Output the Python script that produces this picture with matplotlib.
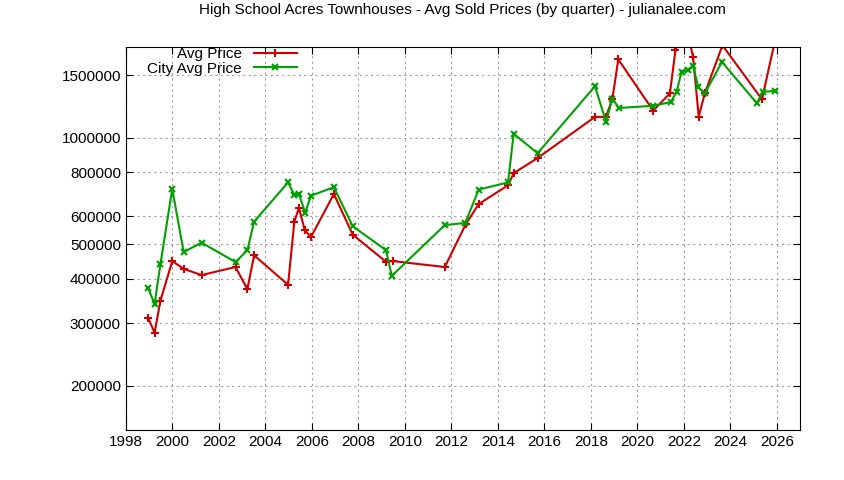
import matplotlib
matplotlib.use("Agg")
import matplotlib.pyplot as plt
from matplotlib.ticker import FixedLocator, NullLocator

# Avg Price (red)
avg_years = [1998.97, 1999.24, 1999.49, 2000.0, 2000.49, 2001.26, 2002.72, 2003.23, 2003.52,
             2004.98, 2005.25, 2005.45, 2005.69, 2005.96, 2006.95, 2007.76, 2009.19, 2009.48,
             2011.72, 2012.62, 2013.18, 2014.44, 2014.68, 2015.71, 2018.18, 2018.65, 2018.93,
             2019.18, 2020.68, 2021.40, 2021.64, 2021.9, 2022.15, 2022.40, 2022.64, 2022.90,
             2023.66, 2025.36, 2025.90]
avg_price = [310000, 282000, 347000, 449000, 427000, 410000, 432000, 374000, 466000,
             385000, 580000, 634000, 551000, 524000, 694000, 533000, 447000, 449000,
             432000, 570000, 650000, 734000, 794000, 876000, 1144000, 1144000, 1287000,
             1662000, 1192000, 1332000, 1762000, 2100000, 2000000, 1682000, 1146000, 1332000,
             1820000, 1282000, 1850000]

# City Avg Price (green)
city_years = [1998.97, 1999.24, 1999.49, 2000.0, 2000.49, 2001.26, 2002.72, 2003.23, 2003.52,
              2004.98, 2005.25, 2005.45, 2005.72, 2005.96, 2006.95, 2007.76, 2009.19, 2009.44,
              2011.72, 2012.6, 2013.18, 2014.44, 2014.68, 2015.71, 2018.18, 2018.65, 2018.93,
              2019.21, 2020.68, 2021.43, 2021.69, 2021.90, 2022.16, 2022.41, 2022.61, 2022.90,
              2023.64, 2025.14, 2025.40, 2025.93]
city_price = [376000, 340000, 440000, 717000, 476000, 506000, 446000, 482000, 580000,
              748000, 690000, 692000, 614000, 686000, 725000, 563000, 482000, 408000,
              567000, 575000, 714000, 748000, 1025000, 904000, 1396000, 1109000, 1287000,
              1212000, 1230000, 1259000, 1346000, 1532000, 1548000, 1589000, 1390000, 1332000,
              1634000, 1250000, 1346000, 1354000]

yticks = [200000, 300000, 400000, 500000, 600000, 800000, 1000000, 1500000]
xticks = list(range(1998, 2027, 2))

plt.rcParams['font.family'] = ['Liberation Sans', 'DejaVu Sans']
fig = plt.figure(figsize=(8.44, 4.8), dpi=100)
ax = fig.add_axes([0.149, 0.104, 0.799, 0.798])

ax.plot(avg_years, avg_price, color='#cc0000', marker='+', markersize=6, mew=1.5, lw=1.5, label='Avg Price')
ax.plot(city_years, city_price, color='#00a000', marker='x', markersize=5, mew=1.5, lw=1.5, label='City Avg Price')

ax.set_yscale('log')
ax.set_ylim(150000, 1800000)
ax.set_xlim(1998, 2027)
ax.yaxis.set_major_locator(FixedLocator(yticks))
ax.yaxis.set_minor_locator(NullLocator())
ax.set_yticklabels([str(v) for v in yticks])
ax.set_xticks(xticks)
ax.tick_params(direction='in', labelsize=11, top=True, right=True, length=5)
ax.grid(True, color='#a0a0a0', linestyle=(0, (2, 3)), lw=0.8)
ax.set_axisbelow(True)

ax.set_title('High School Acres Townhouses - Avg Sold Prices (by quarter) - julianalee.com', fontsize=11, pad=24)
ax.legend(loc='upper left', bbox_to_anchor=(0.02, 1.02), frameon=False, markerfirst=False,
          fontsize=11, handlelength=2.8, labelspacing=0.05, borderaxespad=0.1)

plt.savefig('out.png')
